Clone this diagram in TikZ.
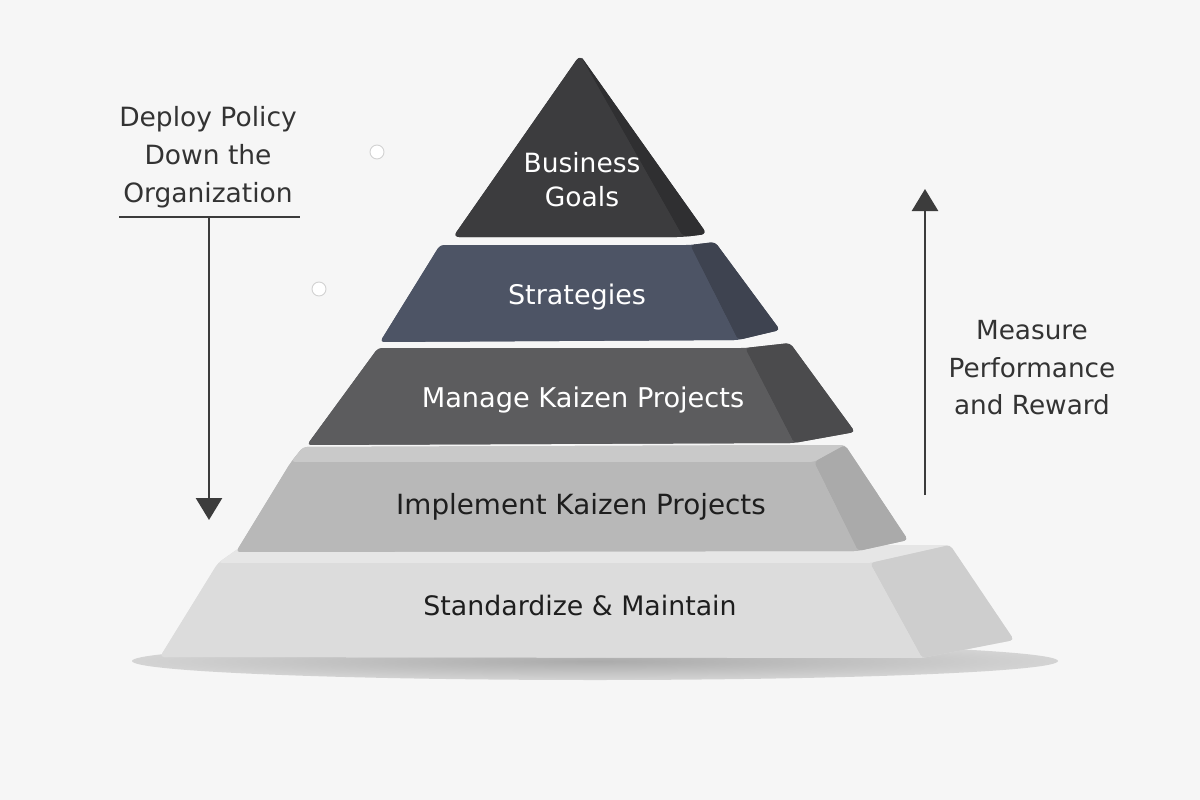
\documentclass[tikz,border=0pt]{standalone}
\usepackage{fontspec}
\setmainfont{DejaVu Sans}
\usetikzlibrary{arrows.meta}
\definecolor{bgc}{HTML}{F6F6F6}
\definecolor{arrowc}{HTML}{3C3C3C}
\definecolor{labc}{HTML}{333333}
\definecolor{dotc}{HTML}{D2D2D2}
\definecolor{bgF}{HTML}{3C3C3E}
\definecolor{bgS}{HTML}{2F2F31}
\definecolor{stF}{HTML}{4D5465}
\definecolor{stS}{HTML}{3E4350}
\definecolor{mkF}{HTML}{5C5C5E}
\definecolor{mkS}{HTML}{4B4B4D}
\definecolor{ikT}{HTML}{C9C9C9}
\definecolor{ikF}{HTML}{B8B8B8}
\definecolor{ikS}{HTML}{AAAAAA}
\definecolor{smT}{HTML}{E6E6E6}
\definecolor{smF}{HTML}{DCDCDC}
\definecolor{smS}{HTML}{CECECE}
\definecolor{darktxt}{HTML}{1E1E1E}
\begin{document}
\begin{tikzpicture}[x=1pt,y=-1pt,
  face/.style={rounded corners=4pt},
  laytext/.style={anchor=base},
  sidelbl/.style={align=center, text=labc},
  flow/.style={line width=2.6pt, draw=arrowc, -{Triangle[length=22pt,width=26pt]}},
  dotmark/.style={draw=dotc, line width=0.9pt, fill=white}]
\fill[bgc] (0,0) rectangle (1200,800);
\useasboundingbox (0,0) rectangle (1200,800);

% ground shadow
\shade[inner color=black!33, outer color=black!17] (595,661) ellipse [x radius=463pt, y radius=19pt];

% Standardize & Maintain
\fill[smF, face] (242,546) -- (950,545) -- (1014,640) -- (922,658) -- (160,657) -- (218,563) -- cycle;
\fill[smT, face] (242,546) -- (950,545) -- (870,563) -- (218,563) -- cycle;
\fill[smS, face] (870,563) -- (950,545) -- (1014,640) -- (922,658) -- cycle;
\fill[smF, face] (218,563) -- (870,563) -- (922,658) -- (160,657) -- cycle;

% Implement Kaizen Projects
\fill[ikF, face] (303,447) -- (845,445) -- (908,540) -- (858,551) -- (236,552) -- (291,462) -- cycle;
\fill[ikT, face] (303,447) -- (845,445) -- (814,462) -- (291,462) -- cycle;
\fill[ikS, face] (814,462) -- (845,445) -- (908,540) -- (858,551) -- cycle;
\fill[ikF, face] (291,462) -- (814,462) -- (858,551) -- (236,552) -- cycle;

% Manage Kaizen Projects
\fill[mkF, face] (378,348) -- (745,348) -- (790,343) -- (855,432) -- (794,443) -- (307,445) -- cycle;
\fill[mkS, face] (745,348) -- (790,343) -- (855,432) -- (794,443) -- cycle;
\fill[mkF, face] (378,348) -- (745,348) -- (794,443) -- (307,445) -- cycle;

% Strategies
\fill[stF, face] (440,245) -- (690,245) -- (715,242) -- (780,330) -- (738,340) -- (380,342) -- cycle;
\fill[stS, face] (690,245) -- (715,242) -- (780,330) -- (738,340) -- cycle;
\fill[stF, face] (440,245) -- (690,245) -- (738,340) -- (380,342) -- cycle;

% Business Goals
\fill[bgF, rounded corners=6pt] (580,55) -- (707,234) -- (683,237) -- (453,237) -- cycle;
\fill[bgS, rounded corners=6pt] (580,55) -- (707,234) -- (683,237) -- cycle;
\fill[bgF, rounded corners=6pt] (580,55) -- (683,237) -- (453,237) -- cycle;

% layer texts
\node[font=\fontsize{26.5}{34}\selectfont, align=center, text=white] (goals) at (582,180) {Business\\Goals};
\node[laytext, font=\fontsize{27}{34}\selectfont, text=white] (strat) at (577,304) {Strategies};
\node[laytext, font=\fontsize{27.2}{34}\selectfont, text=white] (manage) at (583,407) {Manage Kaizen Projects};
\node[laytext, font=\fontsize{27.8}{34}\selectfont, text=darktxt] (impl) at (581,514) {Implement Kaizen Projects};
\node[laytext, font=\fontsize{26.8}{34}\selectfont, text=darktxt] (stand) at (580,615) {Standardize \& Maintain};

% left label and arrow
\node[sidelbl, font=\fontsize{26.5}{38}\selectfont] (deploy) at (208,157) {Deploy Policy\\Down the\\Organization};
\coordinate (ulA) at (119,217);
\coordinate (ulB) at (300,217);
\coordinate (dTop) at (209,217);
\coordinate (dEnd) at (209,520);
\draw[line width=2pt, arrowc] (ulA) -- (ulB);
\draw[flow] (dTop) -- (dEnd);

% right label and arrow
\node[sidelbl, font=\fontsize{26.3}{37.5}\selectfont] (measure) at (1032,368) {Measure\\Performance\\and Reward};
\coordinate (uBot) at (925,495);
\coordinate (uEnd) at (925,189);
\draw[flow] (uBot) -- (uEnd);

% small circles
\draw[dotmark] (377,152) circle [radius=7pt];
\draw[dotmark] (319,289) circle [radius=7pt];
\end{tikzpicture}
\end{document}
